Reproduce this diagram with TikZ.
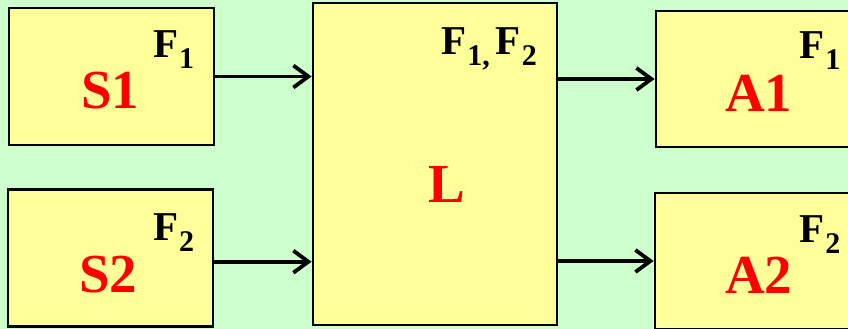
\documentclass[tikz,border=0pt]{standalone}
\usepackage{fontspec}
\setmainfont{Liberation Serif}
\usetikzlibrary{arrows.meta}
\definecolor{bggreen}{RGB}{204,255,204}
\definecolor{boxyellow}{RGB}{255,255,153}
\definecolor{labred}{RGB}{255,0,0}
\newcommand{\Flab}[1]{{\fontsize{41}{41}\selectfont\bfseries F}\hspace{1pt}\raisebox{-11pt}{\fontsize{30}{30}\selectfont\bfseries #1}}
\tikzset{
  box/.style={draw=black, line width=2.8pt, fill=boxyellow, inner sep=0pt},
  bigtxt/.style={anchor=base west, inner sep=0pt, text=labred, font=\fontsize{55}{55}\selectfont\bfseries},
  ftxt/.style={anchor=base west, inner sep=0pt, text=black},
  arr/.style={line width=3.8pt, -{Straight Barb[length=15pt, width=22pt, line width=3.8pt]}}
}
\begin{document}
\begin{tikzpicture}[x=1pt, y=-1pt]
\useasboundingbox (0,0) rectangle (848,329);
\fill[bggreen] (0,0) rectangle (848,329);
% boxes
\node[box, minimum width=205pt, minimum height=137pt] (S1) at (111.5,76.5) {};
\node[box, minimum width=205pt, minimum height=137pt] (S2) at (110.5,258.3) {};
\node[box, minimum width=244pt, minimum height=322pt] (L) at (435,164) {};
\node[box, minimum width=205pt, minimum height=136pt] (A1) at (758.5,79) {};
\node[box, minimum width=205pt, minimum height=136pt] (A2) at (757.5,261) {};
% labels
\node[bigtxt] (tS1) at (81,108.3) {S1};
\node[bigtxt] (tS2) at (79,292.5) {S2};
\node[bigtxt] (tL) at (428,202) {L};
\node[bigtxt] (tA1) at (725,111) {A1};
\node[bigtxt] (tA2) at (725,293) {A2};
\node[ftxt] (fS1) at (153,57) {\Flab{1}};
\node[ftxt] (fS2) at (153,240.7) {\Flab{2}};
\node[ftxt] (fA1) at (799,58.5) {\Flab{1}};
\node[ftxt] (fA2) at (799,242) {\Flab{2}};
\node[ftxt] (fL) at (441,54.5) {\Flab{1,}\hspace{6pt}\Flab{2}};
% connectors
\coordinate (s1o) at (S1.east);
\coordinate (s2o) at ([yshift=-3.4pt]S2.east);
\draw[arr] (s1o) -- (s1o -| L.west);
\draw[arr] (s2o) -- (s2o -| L.west);
\draw[arr] (L.east |- A1.west) -- (A1.west);
\draw[arr] (L.east |- A2.west) -- (A2.west);
\end{tikzpicture}
\end{document}
